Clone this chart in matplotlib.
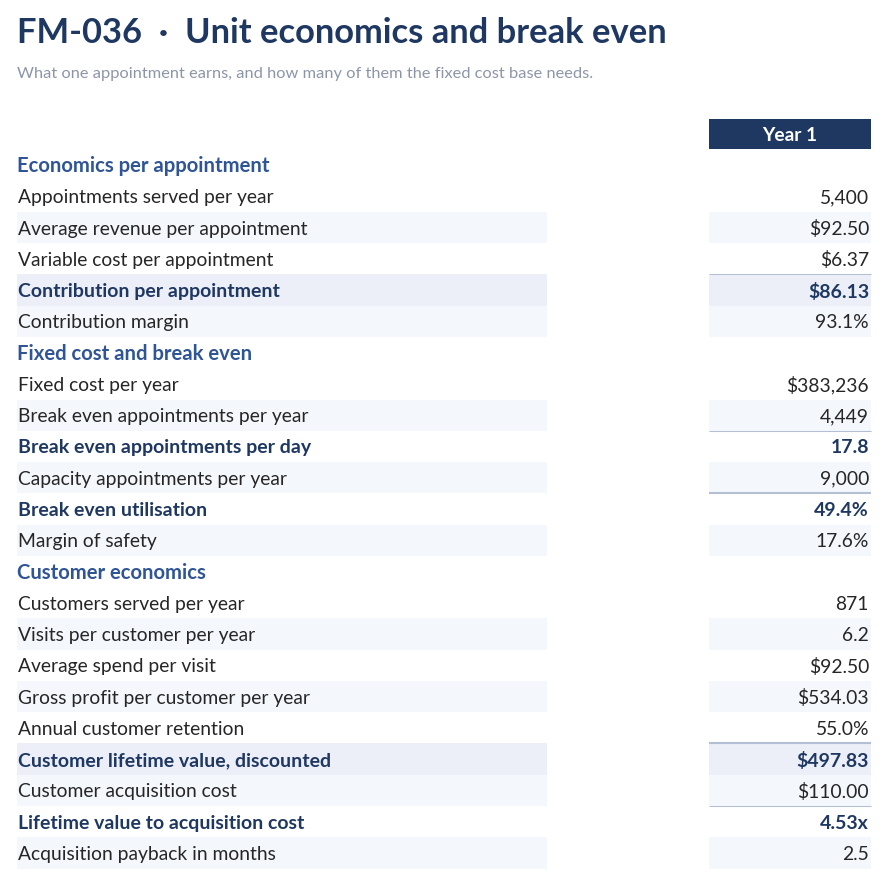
import matplotlib
matplotlib.use('Agg')
import matplotlib.pyplot as plt
from matplotlib.patches import Rectangle

plt.rcParams['font.family'] = ['Lato', 'DejaVu Sans']

TITLE = "FM-036  \u00b7  Unit economics and break even"
SUBTITLE = "What one appointment earns, and how many of them the fixed cost base needs."
COLUMN = "Year 1"

# kind: sec = section heading, row = plain, bold = key figure, tot = highlighted total
labels = [
    "Economics per appointment",
    "Appointments served per year",
    "Average revenue per appointment",
    "Variable cost per appointment",
    "Contribution per appointment",
    "Contribution margin",
    "Fixed cost and break even",
    "Fixed cost per year",
    "Break even appointments per year",
    "Break even appointments per day",
    "Capacity appointments per year",
    "Break even utilisation",
    "Margin of safety",
    "Customer economics",
    "Customers served per year",
    "Visits per customer per year",
    "Average spend per visit",
    "Gross profit per customer per year",
    "Annual customer retention",
    "Customer lifetime value, discounted",
    "Customer acquisition cost",
    "Lifetime value to acquisition cost",
    "Acquisition payback in months",
]
kinds = ["sec", "row", "row", "row", "tot", "row",
         "sec", "row", "row", "bold", "row", "bold", "row",
         "sec", "row", "row", "row", "row", "row", "tot", "row", "bold", "row"]
values = [None, 5400, 92.50, 6.37, 86.13, 0.931,
          None, 383236, 4449, 17.8, 9000, 0.494, 0.176,
          None, 871, 6.2, 92.50, 534.03, 0.55, 497.83, 110.00, 4.53, 2.5]
fmts = [None, "int", "usd2", "usd2", "usd2", "pct",
        None, "usd0", "int", "f1", "int", "pct", "pct",
        None, "int", "f1", "usd2", "usd2", "pct", "usd2", "usd2", "mult", "f1"]
# rule drawn above the value cell (line width in px, 0 = none)
rules = [0, 0, 0, 0, 1, 0,
         0, 0, 0, 1, 0, 2, 0,
         0, 0, 0, 0, 0, 0, 2, 0, 1, 0]


def fmt(v, f):
    if f == "int":
        return f"{v:,.0f}"
    if f == "usd0":
        return f"${v:,.0f}"
    if f == "usd2":
        return f"${v:,.2f}"
    if f == "pct":
        return f"{v * 100:.1f}%"
    if f == "f1":
        return f"{v:.1f}"
    if f == "mult":
        return f"{v:.2f}x"
    return ""


NAVY = "#1f3862"
SEC_BLUE = "#2f5597"
TEXT = "#262626"
SHADE = "#f4f7fc"
HILITE = "#eceff7"
RULE = "#b4bfd4"

fig = plt.figure(figsize=(8.87, 8.8), dpi=100)
ax = fig.add_axes([0, 0, 1, 1])
ax.set_xlim(0, 887)
ax.set_ylim(880, 0)
ax.axis('off')

ax.text(17, 33, TITLE, fontsize=24.8, fontweight='bold', color=NAVY, va='center', ha='left')
ax.text(17, 74, SUBTITLE, fontsize=11.8, color="#8c96a8", va='center', ha='left')

y0, step = 165.0, 31.27
lab_x0, lab_x1 = 17, 547
val_x0, val_x1 = 709, 871
h = step

# header cell
hy = y0 - step
ax.add_patch(Rectangle((val_x0, hy - h / 2 + 0.5), val_x1 - val_x0, h - 1, color=NAVY, lw=0))
ax.text((val_x0 + val_x1) / 2, hy + 1.5, COLUMN, fontsize=13.8, fontweight='bold',
        color='white', ha='center', va='center')

k = 0
for i, (lab, kind) in enumerate(zip(labels, kinds)):
    yc = y0 + i * step
    if kind == "sec":
        k = 0
        ax.text(lab_x0, yc + 1, lab, fontsize=14.6, fontweight='bold', color=SEC_BLUE,
                ha='left', va='center')
        continue
    fill = None
    if kind == "tot":
        fill = HILITE
    else:
        if k % 2 == 1:
            fill = SHADE
        k += 1
    if fill:
        ax.add_patch(Rectangle((lab_x0, yc - h / 2), lab_x1 - lab_x0, h, color=fill, lw=0))
        ax.add_patch(Rectangle((val_x0, yc - h / 2), val_x1 - val_x0, h, color=fill, lw=0))
    if rules[i]:
        ax.plot([val_x0, val_x1], [yc - h / 2, yc - h / 2], color=RULE,
                lw=rules[i] * 0.75, solid_capstyle='butt')
    strong = kind in ("tot", "bold")
    color = NAVY if strong else TEXT
    weight = 'bold' if strong else 'normal'
    size = 14.0 if strong else 13.9
    ax.text(lab_x0 + 1, yc + 1.5, lab, fontsize=size, fontweight=weight, color=color,
            ha='left', va='center')
    ax.text(val_x1 - 2, yc + 1.5, fmt(values[i], fmts[i]), fontsize=size, fontweight=weight,
            color=color, ha='right', va='center')

fig.savefig("out.png", dpi=100)
